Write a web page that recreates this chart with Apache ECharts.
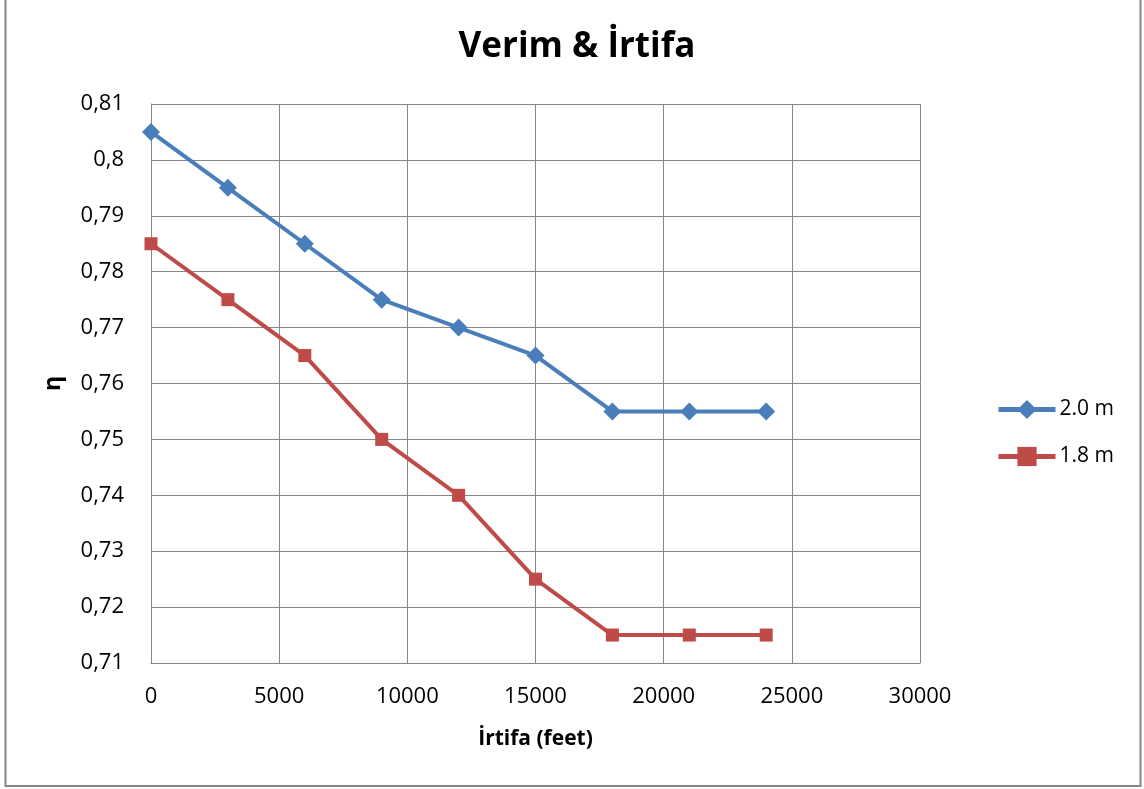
<!DOCTYPE html>
<html><head><meta charset="utf-8">
<script src="https://cdn.jsdelivr.net/npm/echarts@6/dist/echarts.min.js"></script>
<style>html,body{margin:0;padding:0;background:#fff}#c{width:1144px;height:789px}</style>
</head><body><div id="c"></div>
<script>
const altitudes = [0, 3000, 6000, 9000, 12000, 15000, 18000, 21000, 24000];
const series20 = [0.805, 0.795, 0.785, 0.775, 0.770, 0.765, 0.755, 0.755, 0.755];
const series18 = [0.785, 0.775, 0.765, 0.750, 0.740, 0.725, 0.715, 0.715, 0.715];
const seriesNames = ['2.0 m', '1.8 m'];

const chart = echarts.init(document.getElementById('c'));
const font = 'Open Sans, Noto Sans, sans-serif';
chart.setOption({
  animation: false,
  backgroundColor: '#fff',
  title: { text: 'Verim & İrtifa', left: 572, top: 25, textAlign: 'center',
    textStyle: { fontFamily: font, fontSize: 35, fontWeight: 'bold', color: '#000' } },
  grid: { left: 151, right: 224, top: 104, bottom: 126 },
  legend: {
    orient: 'vertical', left: 991, top: 394, itemGap: 26, itemWidth: 57, itemHeight: 24,
    textStyle: { fontFamily: font, fontSize: 21, color: '#000', padding: [0, 0, 0, -1] },
    lineStyle: { width: 5 },
    data: [
      { name: seriesNames[0], lineStyle: { width: 5 } },
      { name: seriesNames[1], lineStyle: { width: 5 } }
    ]
  },
  xAxis: {
    type: 'value', min: 0, max: 30000, interval: 5000,
    name: 'İrtifa (feet)', nameLocation: 'middle', nameGap: 66,
    nameTextStyle: { fontFamily: font, fontSize: 21, fontWeight: 'bold', color: '#000' },
    axisLine: { lineStyle: { color: '#868686', width: 1 } },
    axisTick: { show: false },
    axisLabel: { fontFamily: font, fontSize: 22, color: '#000', margin: 23, formatter: v => String(v) },
    splitLine: { show: true, lineStyle: { color: '#868686', width: 1 } }
  },
  yAxis: {
    type: 'value', min: 0.71, max: 0.81, interval: 0.01,
    name: 'η', nameLocation: 'middle', nameGap: 86, nameRotate: 90,
    nameTextStyle: { fontFamily: font, fontSize: 23, fontWeight: 'bold', color: '#000' },
    axisLine: { show: true, lineStyle: { color: '#868686', width: 1 } },
    axisTick: { show: false },
    axisLabel: { fontFamily: font, fontSize: 22, color: '#000', margin: 27,
      formatter: v => (Math.round(v * 1000) / 1000).toString().replace('.', ',') },
    splitLine: { show: true, lineStyle: { color: '#868686', width: 1 } }
  },
  series: [
    { name: seriesNames[0], type: 'line', data: altitudes.map((x, i) => [x, series20[i]]),
      symbol: 'diamond', symbolSize: 18, showAllSymbol: true,
      lineStyle: { color: '#4a7ebb', width: 4 }, itemStyle: { color: '#4a7ebb' } },
    { name: seriesNames[1], type: 'line', data: altitudes.map((x, i) => [x, series18[i]]),
      symbol: 'rect', symbolSize: 13, showAllSymbol: true,
      lineStyle: { color: '#be4b48', width: 4 }, itemStyle: { color: '#be4b48' } }
  ],
  graphic: [
    { type: 'rect', shape: { x: 5.5, y: -2, width: 1135, height: 788 },
      style: { fill: 'none', stroke: '#868686', lineWidth: 2 }, silent: true }
  ]
});
</script></body></html>
